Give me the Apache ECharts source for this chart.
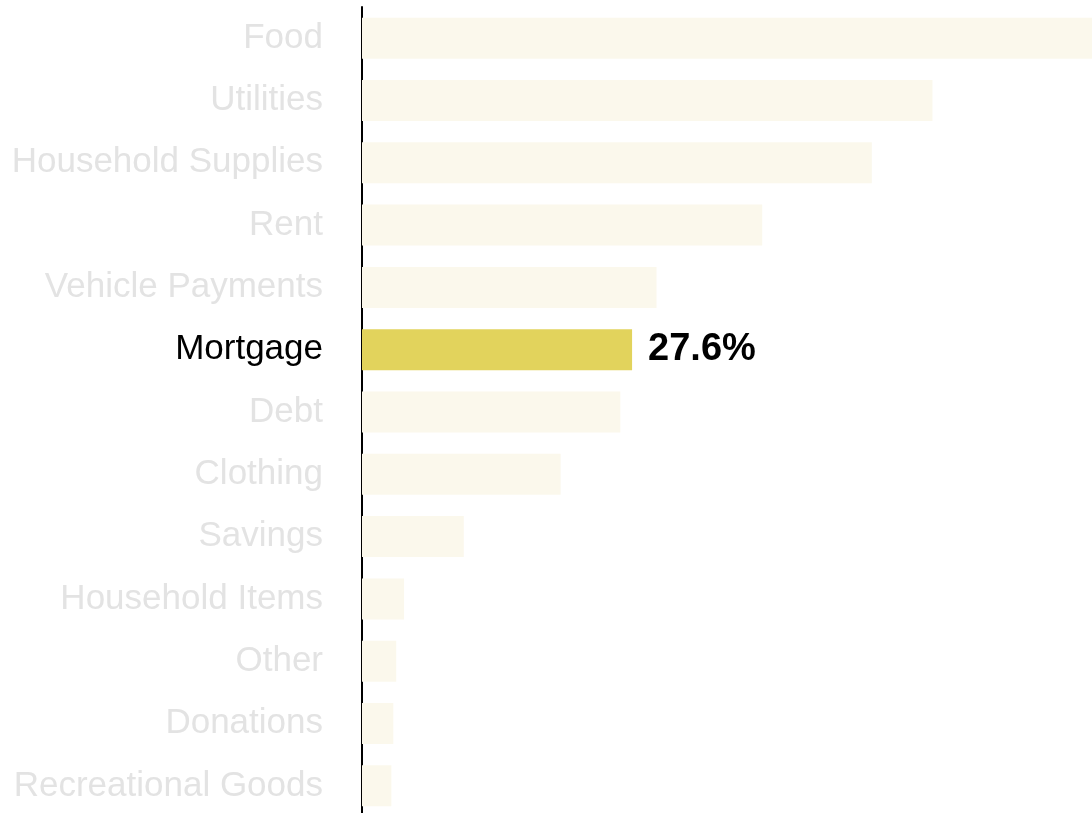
<!DOCTYPE html>
<html>
<head>
<meta charset="utf-8">
<script src="https://cdn.jsdelivr.net/npm/echarts@6/dist/echarts.min.js"></script>
<style>
html,body{margin:0;padding:0;background:#fff;}
#c{width:1092px;height:813px;}
</style>
</head>
<body>
<div id="c"></div>
<script>
const categories = ["Food","Utilities","Household Supplies","Rent","Vehicle Payments","Mortgage","Debt","Clothing","Savings","Household Items","Other","Donations","Recreational Goods"];
const values = [74.6,58.3,52.1,40.9,30.1,27.6,26.4,20.3,10.4,4.3,3.5,3.2,3.0];
const highlight = "Mortgage";

const FONT = '"Liberation Sans", Arial, sans-serif';
const chart = echarts.init(document.getElementById('c'));
chart.setOption({
  animation: false,
  grid: {left: 362, right: 0, top: 7, height: 810, containLabel: false, outerBoundsMode: 'none'},
  xAxis: {type: 'value', min: 0, max: 74.6, show: false},
  yAxis: {
    type: 'category', data: categories, inverse: true,
    axisLine: {show: true, lineStyle: {color: '#000', width: 2}},
    axisTick: {show: false},
    axisLabel: {
      margin: 39,
      formatter: v => v === highlight ? '{h|' + v + '}' : '{n|' + v + '}',
      rich: {
        n: {color: '#e3e3e3', fontSize: 35, fontFamily: FONT},
        h: {color: '#000', fontSize: 35, fontFamily: FONT}
      }
    }
  },
  series: [{
    type: 'bar', barWidth: 41,
    data: values.map((v, i) => ({
      value: v,
      itemStyle: {color: categories[i] === highlight ? '#e2d35c' : '#fbf8ec'},
      label: categories[i] === highlight ? {
        show: true, position: 'right', distance: 16,
        formatter: p => p.value.toFixed(1) + '%',
        color: '#000', fontSize: 38, fontWeight: 'bold', fontFamily: FONT
      } : {show: false}
    }))
  }]
});
</script>
</body>
</html>
